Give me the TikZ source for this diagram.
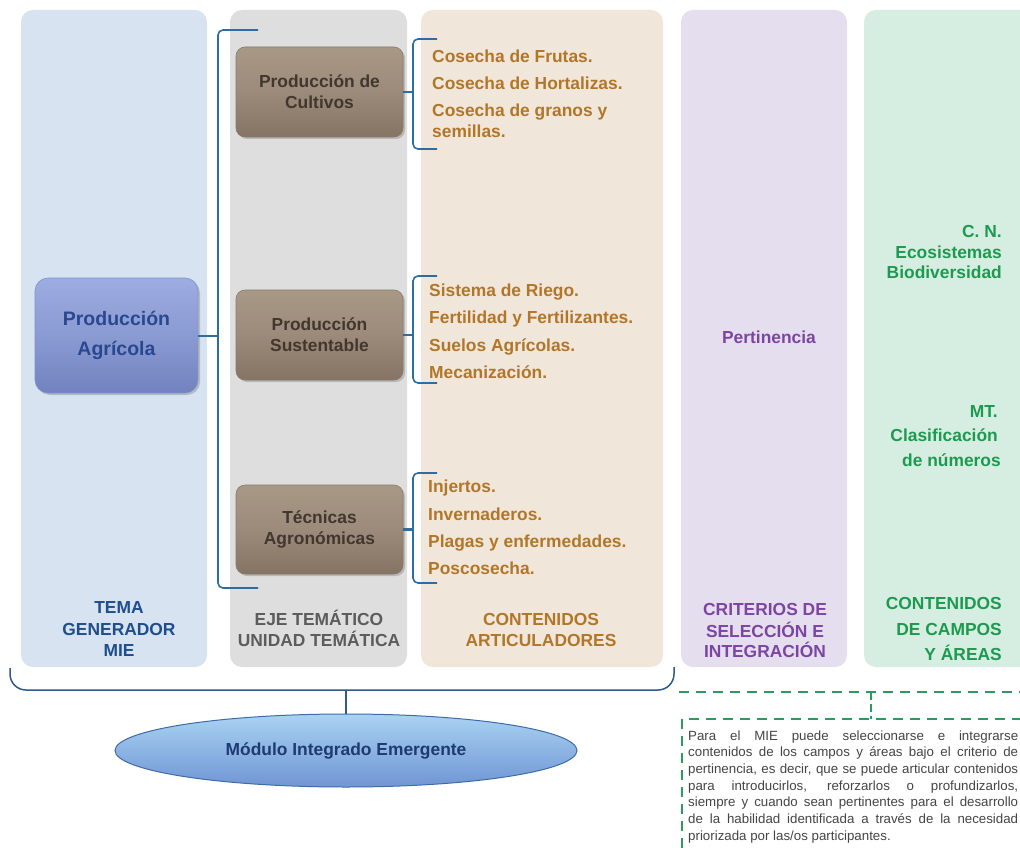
\documentclass[tikz,border=0pt]{standalone}
\usepackage{fontspec}
\setmainfont{Liberation Sans}
\usetikzlibrary{shadows,shapes.geometric}
\definecolor{colA}{HTML}{D7E3F0}
\definecolor{colB}{HTML}{DEDEDE}
\definecolor{colC}{HTML}{F1E6DA}
\definecolor{colD}{HTML}{E4DEEE}
\definecolor{colE}{HTML}{D5EEE1}
\definecolor{brk}{HTML}{2E6DA4}
\definecolor{brace}{HTML}{2E5A8E}
\definecolor{orangeT}{HTML}{B27629}
\definecolor{greenT}{HTML}{1E9A50}
\definecolor{purpleT}{HTML}{7D45A3}
\definecolor{blueT}{HTML}{1F4E8E}
\definecolor{grayT}{HTML}{5C5C5C}
\definecolor{brownT}{HTML}{41372F}
\definecolor{agriT}{HTML}{2A4890}
\definecolor{dashG}{HTML}{2E9A60}
\definecolor{noteT}{HTML}{454545}
\definecolor{brTop}{HTML}{A89886}
\definecolor{brMid}{HTML}{9C8B7A}
\definecolor{brBot}{HTML}{857463}
\definecolor{brDraw}{HTML}{8A7A6A}
\definecolor{agTop}{HTML}{9DADE2}
\definecolor{agMid}{HTML}{8A9AD2}
\definecolor{agBot}{HTML}{7282BF}
\definecolor{agDraw}{HTML}{7F93D0}
\definecolor{elTop}{HTML}{A9D3F2}
\definecolor{elBot}{HTML}{7095D4}
\definecolor{elDraw}{HTML}{3E6CA8}
\definecolor{elText}{HTML}{1F3A72}
\tikzset{
  colbox/.style={rounded corners=12pt},
  brownbox/.style={rectangle, rounded corners=9pt, minimum width=167pt,
    top color=brTop, bottom color=brBot, middle color=brMid,
    draw=brDraw, line width=0.6pt,
    drop shadow={shadow xshift=2pt, shadow yshift=-2pt, opacity=0.4},
    text=brownT, font=\bfseries\fontsize{17.4}{21}\selectfont, align=center, inner sep=0pt},
  agribox/.style={rectangle, rounded corners=13pt, minimum width=163pt, minimum height=115pt,
    top color=agTop, bottom color=agBot, middle color=agMid,
    draw=agDraw, line width=0.6pt,
    drop shadow={shadow xshift=2pt, shadow yshift=-2pt, opacity=0.4},
    text=agriT, font=\bfseries\fontsize{19.5}{30}\selectfont, align=center, inner sep=0pt},
  itemtxt/.style={anchor=base west, inner sep=0pt, text=orangeT, font=\bfseries\fontsize{17.4}{20.5}\selectfont, align=left},
  labtxt/.style={inner sep=0pt, font=\bfseries\fontsize{17.4}{21.5}\selectfont, align=center},
  greentxt/.style={inner sep=0pt, text=greenT, font=\bfseries\fontsize{17.4}{20.5}\selectfont, align=right},
  bracketline/.style={draw=brk, line width=1.6pt, rounded corners=5pt},
  braceline/.style={draw=brace, line width=1.5pt, rounded corners=16pt},
  greendash/.style={draw=dashG, line width=1.8pt, dash pattern=on 10pt off 7pt},
}
\begin{document}
\begin{tikzpicture}[x=1pt,y=-1pt]
\useasboundingbox (0,0) rectangle (1020,848);
\fill[white] (0,0) rectangle (1020,848);
% columns
\fill[colA,colbox] (21,10) rectangle (207,667);
\fill[colB,colbox] (230,10) rectangle (407,667);
\fill[colC,colbox] (421,10) rectangle (663,667);
\fill[colD,colbox] (681,10) rectangle (847,667);
\fill[colE,colbox] (864,10) rectangle (1032,667);

% main bracket
\coordinate (mbt) at (258,30);
\coordinate (mbb) at (258,588);
\draw[bracketline] (mbt) -- (218,30) -- (218,588) -- (mbb);

% boxes
\node[agribox] (agri) at (116.5,335.5) {Producción\\Agrícola};
\node[brownbox, minimum height=90pt] (b1) at (319.5,92) {Producción de\\Cultivos};
\node[brownbox, minimum height=90pt] (b2) at (319.5,335) {Producción\\Sustentable};
\node[brownbox, minimum height=89pt] (b3) at (319.5,529.5) {Técnicas\\Agronómicas};

\draw[draw=brk, line width=2pt] (agri.east) -- (218,335.5);

% sub brackets
\coordinate (k1t) at (437,39);  \coordinate (k1b) at (437,149);
\coordinate (k2t) at (437,276); \coordinate (k2b) at (437,383);
\coordinate (k3t) at (437,473); \coordinate (k3b) at (437,583);
\draw[bracketline] (k1t) -- (413,39) -- (413,149) -- (k1b);
\draw[bracketline] (k2t) -- (413,276) -- (413,383) -- (k2b);
\draw[bracketline] (k3t) -- (413,473) -- (413,583) -- (k3b);
\draw[draw=brk, line width=2.2pt] (b1.east) -- (413,92);
\draw[draw=brk, line width=2.2pt] (b2.east) -- (413,335);
\draw[draw=brk, line width=2.2pt] (b3.east) -- (413,529.5);

% contents
\node[itemtxt] (c11) at (432,63) {Cosecha de Frutas.};
\node[itemtxt] (c12) at (432,90) {Cosecha de Hortalizas.};
\node[itemtxt] (c13) at (432,117) {Cosecha de granos y};
\node[itemtxt] (c14) at (432,138) {semillas.};
\node[itemtxt] (c21) at (429,296) {Sistema de Riego.};
\node[itemtxt] (c22) at (429,323) {Fertilidad y Fertilizantes.};
\node[itemtxt] (c23) at (429,351) {Suelos Agrícolas.};
\node[itemtxt] (c24) at (429,378) {Mecanización.};
\node[itemtxt] (c31) at (428,492) {Injertos.};
\node[itemtxt] (c32) at (428,520) {Invernaderos.};
\node[itemtxt] (c33) at (428,547) {Plagas y enfermedades.};
\node[itemtxt] (c34) at (428,574) {Poscosecha.};

% pertinencia
\node[labtxt, text=purpleT, anchor=base] (pert) at (769,343) {Pertinencia};

% green contents
\node[greentxt, anchor=base east] (cn1) at (1002,237) {C. N.};
\node[greentxt, anchor=base east] (cn2) at (1002,258) {Ecosistemas};
\node[greentxt, anchor=base east] (cn3) at (1002,278) {Biodiversidad};
\node[greentxt, anchor=base east] (mt1) at (998,417) {MT.};
\node[greentxt, anchor=base east] (mt2) at (998,441) {Clasificación};
\node[greentxt, anchor=base east] (mt3) at (1001,466) {de números};

% bottom labels
\node[labtxt, text=blueT, anchor=base] (l1a) at (119,613) {TEMA};
\node[labtxt, text=blueT, anchor=base] (l1b) at (119,635) {GENERADOR};
\node[labtxt, text=blueT, anchor=base] (l1c) at (119,656) {MIE};
\node[labtxt, text=grayT, anchor=base] (l2a) at (319,625) {EJE TEMÁTICO};
\node[labtxt, text=grayT, anchor=base] (l2b) at (319,646) {UNIDAD TEMÁTICA};
\node[labtxt, text=orangeT, anchor=base] (l3a) at (541,625) {CONTENIDOS};
\node[labtxt, text=orangeT, anchor=base] (l3b) at (541,646) {ARTICULADORES};
\node[labtxt, text=purpleT, anchor=base] (l4a) at (765,615) {CRITERIOS DE};
\node[labtxt, text=purpleT, anchor=base] (l4b) at (765,637) {SELECCIÓN E};
\node[labtxt, text=purpleT, anchor=base] (l4c) at (765,657) {INTEGRACIÓN};
\node[labtxt, text=greenT, anchor=base east] (l5a) at (1002,609) {CONTENIDOS};
\node[labtxt, text=greenT, anchor=base east] (l5b) at (1002,635) {DE CAMPOS};
\node[labtxt, text=greenT, anchor=base east] (l5c) at (1002,660) {Y ÁREAS};

% bottom brace
\coordinate (brc) at (346,690);
\draw[braceline] (10,668) -- (10,690) -- (674,690) -- (674,667);
\node[ellipse, minimum width=462pt, minimum height=73pt, inner sep=0pt,
      top color=elTop, bottom color=elBot, draw=elDraw, line width=1pt,
      text=elText, font=\bfseries\fontsize{17.4}{21}\selectfont] (mie) at (346,750.5) {Módulo Integrado Emergente};
\draw[draw=brace, line width=1.5pt] (brc) -- (mie.north);

% dashed note
\coordinate (dl) at (679,692);
\coordinate (dr) at (1022,692);
\coordinate (dm) at (871,692);
\coordinate (nt) at (871,719);
\draw[greendash] (dl) -- (dr);
\draw[greendash, dash pattern=on 8pt off 4pt] (dm) -- (nt);
\draw[greendash] (1022,719) -- (nt) -- (682,719) -- (682,852);
\node[anchor=north west, inner sep=0pt, text width=330pt, align=justify, text=noteT,
      font=\fontsize{13.3}{16.67}\selectfont] (note) at (688,730.3)
{\tolerance=10000\hbadness=10000\hyphenpenalty=10000
Para el MIE puede seleccionarse e integrarse\linebreak
contenidos de los campos y áreas bajo el criterio de\linebreak
pertinencia, es decir, que se puede articular contenidos\linebreak
para introducirlos, reforzarlos o profundizarlos,\linebreak
siempre y cuando sean pertinentes para el desarrollo\linebreak
de la habilidad identificada a través de la necesidad\linebreak
priorizada por las/os participantes.};
\end{tikzpicture}
\end{document}
